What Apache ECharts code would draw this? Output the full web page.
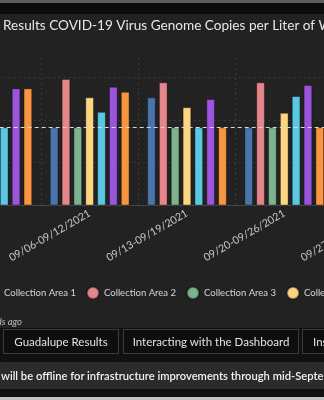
<!DOCTYPE html>
<html>
<head>
<meta charset="utf-8">
<script src="https://cdn.jsdelivr.net/npm/echarts@6/dist/echarts.min.js"></script>
<style>
  html, body { margin: 0; padding: 0; }
  body { width: 324px; height: 400px; overflow: hidden; position: relative; background: #222; font-family: Lato, "Noto Sans", sans-serif; }
  #page { position: absolute; left: 0; top: 0; width: 324px; height: 400px; overflow: hidden; }
  #strip1 { position: absolute; left: 0; top: 0; width: 324px; height: 3px; background: #5c5c5c; }
  #strip2 { position: absolute; left: 0; top: 3px; width: 324px; height: 11px; background: #0b0b0b; }
  #main { position: absolute; left: -120px; top: 14px; width: 560px; height: 316px; }
  #updated { position: absolute; right: 302px; top: 316px; color: #bdbdbd; font-size: 9.5px; font-style: italic; white-space: nowrap; }
  #lower { position: absolute; left: 0; top: 328px; width: 324px; height: 72px; background: #111; }
  .btn { position: absolute; top: 1px; height: 23px; border: 1px solid #3c3c3c; background: #0e0e0e; color: #e2e2e2; font-size: 11.5px; line-height: 23px; text-align: center; white-space: nowrap; overflow: hidden; }
  #banner { position: absolute; left: 0; top: 34px; width: 324px; height: 27px; background: #2b2b2b; color: #f2f2f2; font-size: 11.2px; line-height: 27px; white-space: nowrap; overflow: hidden; font-weight: 600; }
  #bottomline { position: absolute; left: 0; top: 397px; width: 324px; height: 3px; background: #c4c4c4; }
</style>
</head>
<body>
<div id="page">
<div id="strip1"></div>
<div id="strip2"></div>
<div id="main"></div>
<div id="updated">Last update: a few seconds ago</div>
<div id="lower">
  <div class="btn" style="left:3px;width:114px;">Guadalupe Results</div>
  <div class="btn" style="left:123px;width:174px;">Interacting with the Dashboard</div>
  <div class="btn" style="left:302px;width:120px;text-align:left;padding-left:10px;">Instructions</div>
  <div id="banner"><span style="padding-left:1px;">will be offline for infrastructure improvements through mid-September.</span></div>
</div>
<div id="bottomline"></div>
</div>

<script>
// weekly collection periods
const weeks = ['08/30-09/05/2021', '09/06-09/12/2021', '09/13-09/19/2021', '09/20-09/26/2021', '09/27-10/03/2021'];
const areaNames = ['Collection Area 1', 'Collection Area 2', 'Collection Area 3', 'Collection Area 4',
    'Collection Area 5', 'Collection Area 6', 'Collection Area 7'];
const areaColors = ['#4a74ac', '#e5868b', '#7cb38c', '#fcd580', '#5bc8e3', '#9a55dc', '#f99440'];

// values per area (units of one gridline step); null = outside the visible crop
const area1 = [null, 1.83, 2.53, 1.83, null];
const area2 = [null, 2.96, 2.88, 2.88, null];
const area3 = [null, 1.83, 1.83, 1.83, null];
const area4 = [null, 2.53, 2.30, 2.17, null];
const area5 = [1.83, 2.19, 1.83, 2.56, null];
const area6 = [2.74, 2.78, 2.49, 2.82, null];
const area7 = [2.74, 2.66, 1.83, 1.83, null];
const referenceLevel = 1.83;

let chart = echarts.init(document.getElementById('main'));

let areaData = [area1, area2, area3, area4, area5, area6, area7];
let series = [];
for (let i = 0; i < areaNames.length; i++) {
    let s = {
        name: areaNames[i], type: 'bar', data: areaData[i],
        barGap: '36%', barCategoryGap: '18%',
        itemStyle: {color: areaColors[i], borderColor: 'rgba(0,0,0,0.35)', borderWidth: 1}
    };
    if (i === 0) {
        s.markLine = {
            silent: true, symbol: 'none', label: {show: false}, z: 10,
            lineStyle: {color: '#d9d9d9', type: [4, 3], width: 1},
            data: [{yAxis: referenceLevel}]
        };
    }
    series.push(s);
}

let option = {
    animation: false,
    backgroundColor: '#222222',
    title: {
        text: 'Results COVID-19 Virus Genome Copies per Liter of Wastewater',
        left: 123, top: 5, padding: 0,
        textStyle: {color: '#e8e8e8', fontSize: 13.6, fontWeight: 'normal', fontFamily: 'Lato'}
    },
    legend: {
        data: areaNames, left: 106, top: 272, padding: 0, width: 1200,
        icon: 'circle', itemWidth: 12, itemHeight: 12, itemGap: 10,
        textStyle: {color: '#d6d6d6', fontSize: 9.5, fontFamily: 'Lato'}
    },
    grid: {left: 63.7, right: 9.8, top: 44, bottom: 124.5},
    xAxis: {
        type: 'category', data: weeks, boundaryGap: true,
        axisLine: {lineStyle: {color: '#474747'}},
        axisTick: {alignWithLabel: true, length: 4, lineStyle: {color: '#474747'}},
        axisLabel: {rotate: 30, interval: 0, color: '#c8c8c8', fontSize: 10.6, fontFamily: 'Lato', margin: 7},
        splitLine: {show: true, lineStyle: {color: '#3a3a3a', type: [2, 3]}}
    },
    yAxis: {
        type: 'value', min: 0, max: 3.45, interval: 1,
        axisLabel: {show: false}, axisLine: {show: false}, axisTick: {show: false},
        splitLine: {show: true, showMaxLine: false, lineStyle: {color: '#3a3a3a', type: [2, 3]}}
    },
    series: series
};

chart.setOption(option);
</script>
</body>
</html>
